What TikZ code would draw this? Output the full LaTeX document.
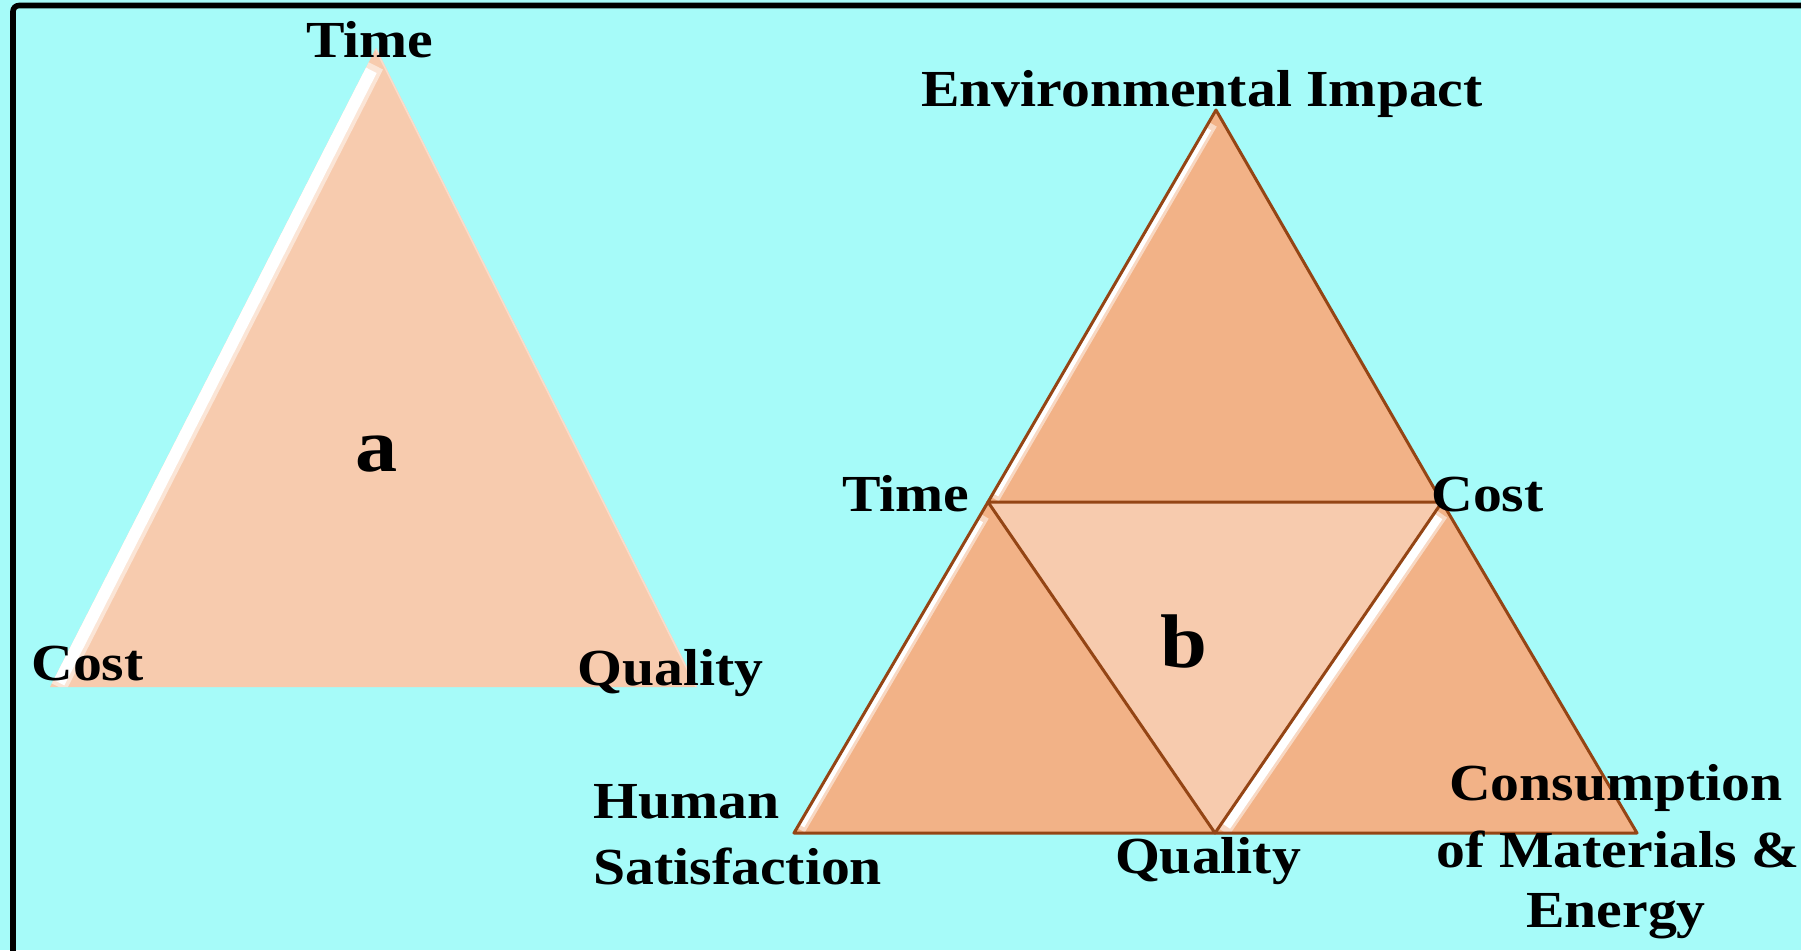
\documentclass[tikz,border=0pt]{standalone}
\usepackage{fontspec}
\setmainfont{Liberation Serif}[FakeStretch=1.11]
\usetikzlibrary{calc}
\definecolor{bgcyan}{HTML}{A6FBF9}
\definecolor{peachlight}{HTML}{F7CBAE}
\definecolor{peachdark}{HTML}{F2B287}
\definecolor{brownline}{HTML}{944515}
\definecolor{peachedge}{HTML}{FADCCB}
\begin{document}
\begin{tikzpicture}[x=0.5pt,y=-0.5pt,
  lbl/.style={font=\bfseries\fontsize{26}{30}\selectfont, inner sep=0pt},
  biglbl/.style={font=\bfseries\fontsize{38}{44}\selectfont, inner sep=0pt},
  tri/.style={draw=brownline, line width=1.5pt, line join=round},
  bevelsoft/.style={white, opacity=0.5},
  bevelhard/.style={white}]
% background and bounding box
\fill[bgcyan] (0,0) rectangle (1801,950);
\useasboundingbox (0,0) rectangle (1801,950);
% frame
\draw[black, line width=2.8pt, rounded corners=3pt] (13,970) -- (13,5.5) -- (1820,5.5);

% ---------- triangle a ----------
\coordinate (aT) at (376,48);
\coordinate (aL) at (50,687);
\coordinate (aR) at (697,687);
\fill[peachlight] (aT) -- (aL) -- (aR) -- cycle;
\begin{scope}
  \clip (aT) -- (aL) -- (aR) -- cycle;
  \draw[bevelsoft, line width=16pt, shorten <=8pt, shorten >=2pt] (aT) -- (aL);
  \draw[bevelhard, line width=12pt, shorten <=11pt, shorten >=4pt] (aT) -- (aL);
  \draw[peachedge, line width=1.6pt] (aT) -- (aR);
\end{scope}

% ---------- triangle b ----------
\coordinate (bA) at (1216,110);
\coordinate (bT) at (988,502);
\coordinate (bC) at (1442,502);
\coordinate (bL) at (794,833);
\coordinate (bQ) at (1215,833);
\coordinate (bR) at (1637,833);
% middle inverted triangle
\fill[peachlight] (bT) -- (bC) -- (bQ) -- cycle;
% outer sub-triangles: fill
\fill[peachdark] (bA) -- (bT) -- (bC) -- cycle;
\fill[peachdark] (bT) -- (bL) -- (bQ) -- cycle;
\fill[peachdark] (bC) -- (bQ) -- (bR) -- cycle;
% bevels
\begin{scope}
  \clip (bA) -- (bT) -- (bC) -- cycle;
  \draw[bevelsoft, line width=9pt, shorten <=7pt, shorten >=3pt] (bA) -- (bT);
  \draw[bevelhard, line width=6pt, shorten <=10pt, shorten >=5pt] (bA) -- (bT);
\end{scope}
\begin{scope}
  \clip (bT) -- (bL) -- (bQ) -- cycle;
  \draw[bevelsoft, line width=9pt, shorten <=7pt, shorten >=3pt] (bT) -- (bL);
  \draw[bevelhard, line width=6pt, shorten <=10pt, shorten >=5pt] (bT) -- (bL);
\end{scope}
\begin{scope}
  \clip (bC) -- (bQ) -- (bR) -- cycle;
  \draw[bevelsoft, line width=13pt, shorten <=5pt, shorten >=3pt] (bC) -- (bQ);
  \draw[bevelhard, line width=10pt, shorten <=7pt, shorten >=6pt] (bC) -- (bQ);
\end{scope}
% outlines
\draw[tri] (bA) -- (bT) -- (bC) -- cycle;
\draw[tri] (bT) -- (bL) -- (bQ) -- cycle;
\draw[tri] (bC) -- (bQ) -- (bR) -- cycle;

% ---------- labels ----------
\node[lbl, anchor=base] (laTime) at (370,57) {Time};
\node[lbl, anchor=base west] (laCost) at (31,680) {Cost};
\node[lbl, anchor=base west] (laQual) at (577,685) {Quality};
\node[biglbl, anchor=base] (laA) at (377,471) {a};

\node[lbl, anchor=base] (lbEnv) at (1202,106) {Environmental Impact};
\node[lbl, anchor=base west] (lbTime) at (842,511) {Time};
\node[lbl, anchor=base west] (lbCost) at (1431,511) {Cost};
\node[lbl, anchor=base west] (lbHum) at (593,818) {Human};
\node[lbl, anchor=base west] (lbSat) at (593,884) {Satisfaction};
\node[lbl, anchor=base] (lbQual) at (1208,873) {Quality};
\node[lbl, anchor=base] (lbCon1) at (1616,800) {Consumption};
\node[lbl, anchor=base] (lbCon2) at (1618,867) {of Materials \&};
\node[lbl, anchor=base] (lbCon3) at (1616,927) {Energy};
\node[biglbl, anchor=base] (lbB) at (1184,667) {b};
\end{tikzpicture}
\end{document}
